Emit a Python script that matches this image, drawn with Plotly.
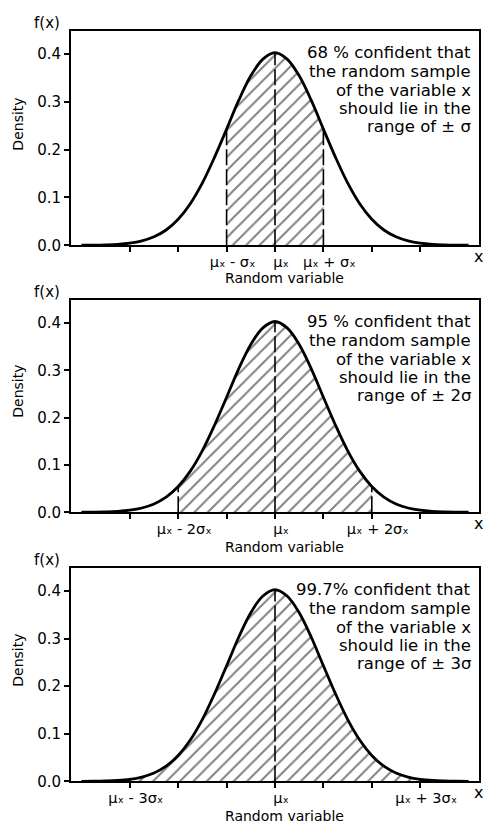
import plotly.graph_objects as go

# ---- data ----
x_vals = [-4.0, -3.75, -3.5, -3.25, -3.0, -2.75, -2.5, -2.25, -2.0, -1.75, -1.5, -1.25,
          -1.0, -0.75, -0.5, -0.25, 0.0, 0.25, 0.5, 0.75, 1.0, 1.25, 1.5, 1.75,
          2.0, 2.25, 2.5, 2.75, 3.0, 3.25, 3.5, 3.75, 4.0]
density = [0.0002, 0.0004, 0.0009, 0.0020, 0.0045, 0.0092, 0.0177, 0.0320, 0.0545, 0.0870,
           0.1305, 0.1840, 0.2430, 0.3030, 0.3545, 0.3895, 0.4030, 0.3895, 0.3545, 0.3030,
           0.2430, 0.1840, 0.1305, 0.0870, 0.0545, 0.0320, 0.0177, 0.0092, 0.0045, 0.0020,
           0.0009, 0.0004, 0.0002]

sigma_multiples = [1, 2, 3]
y_tick_vals = [0.0, 0.1, 0.2, 0.3, 0.4]
y_tick_text = ["0.0", "0.1", "0.2", "0.3", "0.4"]
x_minor_ticks = [-3, -2, -1, 0, 1, 2, 3]
x_label_vals = [[-1, 0, 1], [-2, 0, 2], [-3, 0, 3]]
x_label_text = [
    ["µₓ - σₓ", "µₓ", "µₓ + σₓ"],
    ["µₓ - 2σₓ", "µₓ", "µₓ + 2σₓ"],
    ["µₓ - 3σₓ", "µₓ", "µₓ + 3σₓ"],
]
panel_texts = [
    ["68 % confident that", "the random sample", "of the variable x", "should lie in the", "range of ± σ"],
    ["95 % confident that", "the random sample", "of the variable x", "should lie in the", "range of ± 2σ"],
    ["99.7% confident that", "the random sample", "of the variable x", "should lie in the", "range of ± 3σ"],
]
y_axis_title = "Density"
x_axis_title = "Random variable"

# ---- layout geometry (pixels in a 483x827 canvas) ----
W, H = 483, 827
panel_px = [(31, 248), (303, 518), (574, 790)]  # top, bottom of each plot box
x_left, x_right = 71, 479
text_line_off = [22, 41, 60, 79, 97]          # px below box top
xtitle_off = [33, 35, 35]                     # px below axis
FONT = "DejaVu Sans"


def px(xp):
    return xp / W


def py(yp):
    return 1 - yp / H


fig = go.Figure()
layout_axes = {}
annotations = []

for i, k in enumerate(sigma_multiples):
    n = "" if i == 0 else str(i + 1)
    xa, ya = "x" + n, "y" + n
    top, bot = panel_px[i]
    # hatched region
    sx = [xv for xv in x_vals if -k <= xv <= k]
    sy = [d for xv, d in zip(x_vals, density) if -k <= xv <= k]
    fig.add_trace(go.Scatter(x=sx, y=sy, mode="lines", fill="tozeroy",
                             line=dict(color="rgba(0,0,0,0)", width=0, shape="spline"),
                             fillcolor="white",
                             fillpattern=dict(shape="/", fgcolor="black", bgcolor="white",
                                              size=9.5, solidity=0.2),
                             xaxis=xa, yaxis=ya, showlegend=False, hoverinfo="skip"))
    # curve
    fig.add_trace(go.Scatter(x=x_vals, y=density, mode="lines",
                             line=dict(color="black", width=2.8, shape="spline"),
                             xaxis=xa, yaxis=ya, showlegend=False, hoverinfo="skip"))
    # dashed verticals
    for v in (-k, 0, k):
        d = density[x_vals.index(float(v))]
        fig.add_trace(go.Scatter(x=[v, v], y=[0, d], mode="lines",
                                 line=dict(color="black", width=1.6, dash="16px,4px"),
                                 xaxis=xa, yaxis=ya, showlegend=False, hoverinfo="skip"))

    xdom = [px(x_left), px(x_right)]
    ydom = [py(bot), py(top)]
    axis_common = dict(showline=True, mirror=True, linecolor="black", linewidth=2,
                       ticks="outside", ticklen=5, tickwidth=2, tickcolor="black",
                       showgrid=False, zeroline=False, fixedrange=True)
    layout_axes["xaxis" + n] = dict(domain=xdom, range=[-4.215, 4.215], anchor=ya,
                                    tickvals=x_label_vals[i], ticktext=x_label_text[i],
                                    ticklabelshift=6, ticklabelstandoff=-3,
                                    tickfont=dict(family=FONT, size=14.5, color="black"),
                                    minor=dict(tickvals=x_minor_ticks, ticks="outside",
                                               ticklen=5, tickwidth=2, tickcolor="black",
                                               showgrid=False),
                                    **axis_common)
    layout_axes["yaxis" + n] = dict(domain=ydom, range=[0, 0.449], anchor=xa,
                                    tickvals=y_tick_vals, ticktext=y_tick_text,
                                    tickfont=dict(family=FONT, size=15, color="black"),
                                    **axis_common)

    # confidence text, one annotation per line
    for j, line in enumerate(panel_texts[i]):
        annotations.append(dict(text=line, xref="paper", x=px(473), xanchor="right",
                                yref="paper", y=py(top + text_line_off[j]), yanchor="middle",
                                showarrow=False,
                                font=dict(family=FONT, size=16.5, color="black")))
    annotations.append(dict(text="f(x)", xref="paper", x=px(47), xanchor="center",
                            yref="paper", y=py(top - 8), yanchor="middle", showarrow=False,
                            font=dict(family=FONT, size=15, color="black")))
    annotations.append(dict(text="x", xref="paper", x=px(478), xanchor="center",
                            yref="paper", y=py(bot + 11), yanchor="middle", showarrow=False,
                            font=dict(family=FONT, size=16, color="black")))
    annotations.append(dict(text=x_axis_title, xref="paper", x=px(284), xanchor="center",
                            yref="paper", y=py(bot + xtitle_off[i]), yanchor="middle",
                            showarrow=False,
                            font=dict(family=FONT, size=14, color="black")))
    annotations.append(dict(text=y_axis_title, xref="paper", x=px(18), xanchor="center",
                            yref="paper", y=py(bot - 122), yanchor="middle", showarrow=False,
                            textangle=-90,
                            font=dict(family=FONT, size=14, color="black")))

fig.update_layout(width=W, height=H, margin=dict(l=0, r=0, t=0, b=0),
                  paper_bgcolor="white", plot_bgcolor="white",
                  annotations=annotations, **layout_axes)

fig.write_html("out.html", config={"displayModeBar": False},
               post_script="document.body.style.margin='0';"
                           "document.body.style.overflow='hidden';")
